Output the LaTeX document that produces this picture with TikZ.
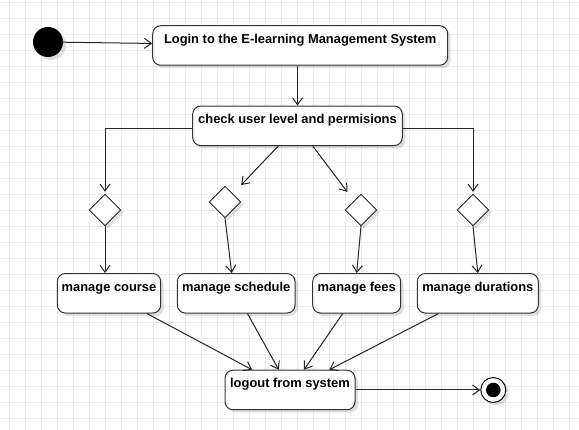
\documentclass[tikz,border=0pt]{standalone}
\usepackage{fontspec}
\setmainfont{Liberation Sans}
\usetikzlibrary{arrows.meta,shapes.geometric,shadows}
\begin{document}
\begin{tikzpicture}[x=1pt,y=-1pt,
  gridline/.style={draw=black!8,line width=0.8pt},
  shad/.style={drop shadow={shadow xshift=3pt,shadow yshift=-3pt,opacity=0.12,fill=black}},
  actbox/.style={draw=black!80,line width=1pt,rounded corners=8pt,fill=white,shad,
    inner xsep=0pt,inner ysep=2pt,text height=15.5pt,text depth=20pt,minimum height=39.5pt,
    font=\fontsize{12.9}{15}\selectfont\bfseries},
  dec/.style={diamond,draw=black,line width=0.8pt,fill=white,shad,inner sep=0pt,
    minimum width=31.5pt,minimum height=31.5pt},
  arr/.style={draw=black!85,line width=1pt,-{Straight Barb[length=7pt,width=10pt]}}]
\useasboundingbox (0,0) rectangle (579,430);
\fill[white] (0,0) rectangle (579,430);
\foreach \i in {0,...,35} \draw[gridline] ({9.3+16*\i},0) -- ({9.3+16*\i},430);
\foreach \j in {0,...,26} \draw[gridline] (0,{2.7+16*\j}) -- (579,{2.7+16*\j});

\node[circle,fill=black,minimum size=30pt,inner sep=0pt,shad] (start) at (48,42) {};
\node[actbox,minimum width=295pt] (login) at (300.2,45.5) {Login to the E-learning Management System};
\node[actbox,minimum width=209.6pt] (check) at (297.5,125.8) {check user level and permisions};

\node[dec] (d1) at (105,210) {};
\node[dec] (d2) at (225,202) {};
\node[dec] (d3) at (361,210) {};
\node[dec] (d4) at (473,210) {};

\node[actbox,minimum width=103.4pt] (course) at (109,293.3) {manage course};
\node[actbox,minimum width=117.7pt] (schedule) at (236.2,293.3) {manage schedule};
\node[actbox,minimum width=88pt] (fees) at (356.7,293.3) {manage fees};
\node[actbox,minimum width=121pt] (durations) at (477.8,293.3) {manage durations};

\node[actbox,minimum width=130pt] (logout) at (290,390) {logout from system};

\node[circle,draw=black,line width=1pt,fill=white,minimum size=25pt,inner sep=0pt,shad] (end) at (493.3,390) {};
\node[circle,fill=black,minimum size=14.5pt,inner sep=0pt] (endin) at (end.center) {};

\draw[arr] (start) -- (login);
\draw[arr] (check.north |- login.south) -- (check.north);
\draw[arr,shorten >=2pt] ([yshift=-3pt]check.west) -| (d1.north);
\draw[arr,shorten >=2pt] ([yshift=-3pt]check.east) -| (d4.north);
\draw[arr,shorten >=12pt] (check) -- (d2);
\draw[arr,shorten >=11pt] (check) -- (d3);

\draw[arr] (d1.south) -- (d1.south |- course.north);
\draw[arr] (d2.south) -- ([xshift=-4.5pt]schedule.north);
\draw[arr] (d3.south) -- (fees.north);
\draw[arr] (d4.south) -- (durations.north);

\draw[arr] (course) -- (logout);
\draw[arr] (schedule) -- (logout);
\draw[arr] (fees) -- (logout);
\draw[arr] (durations) -- (logout);
\draw[arr] (logout) -- (end);
\end{tikzpicture}
\end{document}
